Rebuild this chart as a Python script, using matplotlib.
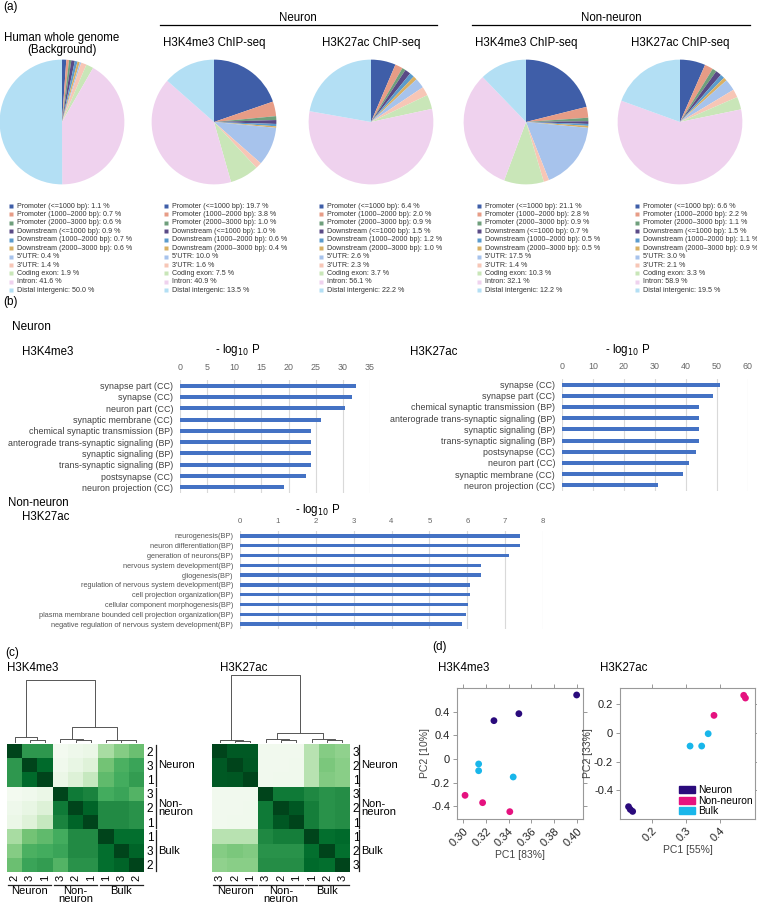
import numpy as np
import matplotlib
matplotlib.use('Agg')
import matplotlib.pyplot as plt
from matplotlib.patches import Patch

plt.rcParams['font.family'] = ['Liberation Sans', 'DejaVu Sans']

W, H = 757, 902

# ---- (a) peak annotation ----
categories = ['Promoter (<=1000 bp)', 'Promoter (1000–2000 bp)', 'Promoter (2000–3000 bp)',
              'Downstream (<=1000 bp)', 'Downstream (1000–2000 bp)', 'Downstream (2000–3000 bp)',
              "5'UTR", "3'UTR", 'Coding exon', 'Intron', 'Distal intergenic']
cat_colors = ['#3f5ea8', '#e79c86', '#6f9f7c', '#5a4a86', '#5b9bcc', '#d9b063',
              '#a7c3ec', '#f7c6b6', '#c9e6b8', '#efd2ee', '#b3dff4']
genome_bg = [1.1, 0.7, 0.6, 0.9, 0.7, 0.6, 0.4, 1.4, 1.9, 41.6, 50.0]
neuron_k4 = [19.7, 3.8, 1.0, 1.0, 0.6, 0.4, 10.0, 1.6, 7.5, 40.9, 13.5]
neuron_k27 = [6.4, 2.0, 0.9, 1.5, 1.2, 1.0, 2.6, 2.3, 3.7, 56.1, 22.2]
nonneuron_k4 = [21.1, 2.8, 0.9, 0.7, 0.5, 0.5, 17.5, 1.4, 10.3, 32.1, 12.2]
nonneuron_k27 = [6.6, 2.2, 1.1, 1.5, 1.1, 0.9, 3.0, 2.1, 3.3, 58.9, 19.5]
pie_titles = ['Human whole genome\n(Background)', 'H3K4me3 ChIP-seq', 'H3K27ac ChIP-seq',
              'H3K4me3 ChIP-seq', 'H3K27ac ChIP-seq']

# ---- (b) GO enrichment ----
go_n_k4_terms = ['synapse part (CC)', 'synapse (CC)', 'neuron part (CC)', 'synaptic membrane (CC)',
                 'chemical synaptic transmission (BP)', 'anterograde trans-synaptic signaling (BP)',
                 'synaptic signaling (BP)', 'trans-synaptic signaling (BP)', 'postsynapse (CC)',
                 'neuron projection (CC)']
go_n_k4_vals = [32.5, 31.7, 30.4, 25.9, 24.2, 24.2, 24.2, 24.2, 23.3, 19.1]
go_n_k27_terms = ['synapse (CC)', 'synapse part (CC)', 'chemical synaptic transmission (BP)',
                  'anterograde trans-synaptic signaling (BP)', 'synaptic signaling (BP)',
                  'trans-synaptic signaling (BP)', 'postsynapse (CC)', 'neuron part (CC)',
                  'synaptic membrane (CC)', 'neuron projection (CC)']
go_n_k27_vals = [51.1, 48.6, 44.3, 44.3, 44.3, 44.3, 43.1, 41.1, 38.9, 31.0]
go_nn_k27_terms = ['neurogenesis(BP)', 'neuron differentiation(BP)', 'generation of neurons(BP)',
                   'nervous system development(BP)', 'gliogenesis(BP)',
                   'regulation of nervous system development(BP)', 'cell projection organization(BP)',
                   'cellular component morphogenesis(BP)',
                   'plasma membrane bounded cell projection organization(BP)',
                   'negative regulation of nervous system development(BP)']
go_nn_k27_vals = [7.38, 7.38, 7.10, 6.37, 6.35, 6.08, 6.07, 6.02, 5.96, 5.85]

# ---- (c) correlation heatmaps ----
hm_k4_labels = ['2', '3', '1', '3', '2', '1', '1', '3', '2']
hm_k4 = [[1.00, 0.70, 0.70, 0.03, 0.06, 0.08, 0.35, 0.45, 0.52],
         [0.70, 1.00, 0.88, 0.05, 0.10, 0.15, 0.50, 0.60, 0.65],
         [0.70, 0.88, 1.00, 0.08, 0.16, 0.25, 0.55, 0.62, 0.68],
         [0.03, 0.05, 0.08, 1.00, 0.82, 0.78, 0.62, 0.65, 0.58],
         [0.06, 0.10, 0.16, 0.82, 1.00, 0.90, 0.75, 0.75, 0.72],
         [0.08, 0.15, 0.25, 0.78, 0.90, 1.00, 0.75, 0.75, 0.72],
         [0.35, 0.50, 0.55, 0.62, 0.75, 0.75, 1.00, 0.86, 0.86],
         [0.45, 0.60, 0.62, 0.65, 0.75, 0.75, 0.86, 1.00, 0.90],
         [0.52, 0.65, 0.68, 0.58, 0.72, 0.72, 0.86, 0.90, 1.00]]
hm_k4_links = [(1, 2, 7), (0, 9, 15), (4, 5, 5), (3, 11, 10), (7, 8, 5), (6, 13, 7),
               (12, 14, 45), (10, 15, 185)]
hm_k27_labels = ['3', '2', '1', '3', '2', '1', '1', '2', '3']
hm_k27 = [[1.00, 0.93, 0.93, 0.04, 0.04, 0.04, 0.30, 0.45, 0.42],
          [0.93, 1.00, 0.94, 0.04, 0.04, 0.05, 0.30, 0.48, 0.44],
          [0.93, 0.94, 1.00, 0.04, 0.05, 0.05, 0.30, 0.46, 0.44],
          [0.04, 0.04, 0.04, 1.00, 0.82, 0.82, 0.76, 0.72, 0.74],
          [0.04, 0.04, 0.05, 0.82, 1.00, 0.94, 0.80, 0.72, 0.74],
          [0.04, 0.05, 0.05, 0.82, 0.94, 1.00, 0.80, 0.72, 0.74],
          [0.30, 0.30, 0.30, 0.76, 0.80, 0.80, 1.00, 0.86, 0.88],
          [0.45, 0.48, 0.46, 0.72, 0.72, 0.72, 0.86, 1.00, 0.86],
          [0.42, 0.44, 0.44, 0.74, 0.74, 0.74, 0.88, 0.86, 1.00]]
hm_k27_links = [(1, 2, 3), (0, 9, 5), (4, 5, 5), (3, 11, 8), (7, 8, 5), (6, 13, 8),
                (12, 14, 28), (10, 15, 203)]
hm_groups = ['Neuron', 'Non-\nneuron', 'Bulk']

# ---- (d) PCA ----
pca_groups = ['Neuron', 'Non-neuron', 'Bulk']
pca_colors = ['#2a0a7c', '#e5127f', '#19b6ea']
k4_pc1 = [[0.327, 0.349, 0.400], [0.3015, 0.317, 0.341], [0.3135, 0.3135, 0.344]]
k4_pc2 = [[0.324, 0.383, 0.541], [-0.307, -0.369, -0.445], [-0.042, -0.099, -0.152]]
k27_pc1 = [[0.132, 0.137, 0.144], [0.469, 0.474, 0.382], [0.312, 0.346, 0.365]]
k27_pc2 = [[-0.514, -0.533, -0.547], [0.263, 0.244, 0.123], [-0.091, -0.091, -0.005]]

fig = plt.figure(figsize=(W / 100, H / 100), dpi=100)


def px_axes(x0, y0, x1, y1):
    return fig.add_axes([x0 / W, 1 - y1 / H, (x1 - x0) / W, (y1 - y0) / H])


# pies
pie_data = [genome_bg, neuron_k4, neuron_k27, nonneuron_k4, nonneuron_k27]
pie_cx = [62, 214, 371, 526, 680]
for vals, cx in zip(pie_data, pie_cx):
    ax = px_axes(cx - 63, 122 - 63, cx + 63, 122 + 63)
    ax.pie(vals, colors=cat_colors, startangle=90, counterclock=False,
           wedgeprops=dict(linewidth=0))
    ax.set_xlim(-1.01, 1.01)
    ax.set_ylim(-1.01, 1.01)


def bar_panel(rect, terms, vals, xmax, step, lab_fs, lab_col, tick_fs, xpad):
    ax = px_axes(*rect)
    y = np.arange(len(terms))
    ax.barh(y, vals, height=0.36, color='#4472c4')
    ax.set_ylim(len(terms) - 0.5, -0.5)
    ax.set_xlim(0, xmax)
    ax.set_xticks(np.arange(0, xmax + step / 2, step))
    ax.xaxis.tick_top()
    ax.set_yticks(y)
    ax.set_yticklabels(terms, fontsize=lab_fs, color=lab_col)
    ax.tick_params(length=0)
    ax.tick_params(axis='y', pad=5)
    ax.tick_params(axis='x', labelsize=tick_fs, labelcolor='#666666', pad=xpad)
    ax.grid(axis='x', color='#d9d9d9', lw=0.8)
    ax.set_axisbelow(True)
    for s in ax.spines.values():
        s.set_visible(False)
    return ax


bar_panel((180, 380, 370, 493), go_n_k4_terms, go_n_k4_vals, 35, 5, 6.4, '#404040', 6.4, 6)
bar_panel((562, 379, 748, 491), go_n_k27_terms, go_n_k27_vals, 60, 10, 6.4, '#404040', 6.4, 6)
bar_panel((240, 531, 543, 629), go_nn_k27_terms, go_nn_k27_vals, 8, 1, 5.3, '#555555', 5.6, 4)


def heatmap_panel(hx0, hx1, mat, labels, links, dtop, line_off):
    ax = px_axes(hx0, 744, hx1, 872)
    ax.imshow(np.array(mat), cmap='Greens', vmin=0, vmax=1, aspect='auto',
              interpolation='nearest')
    ax.set_xticks(range(9))
    ax.set_xticklabels(labels, rotation=90, fontsize=8)
    ax.set_yticks(range(9))
    ax.set_yticklabels(labels, fontsize=8.5)
    ax.yaxis.tick_right()
    ax.tick_params(length=0, pad=2)
    for s in ax.spines.values():
        s.set_visible(False)
    for g, name in enumerate(hm_groups):
        a, b = 3 * g - 0.42, 3 * g + 2.42
        ax.plot([8.5 + line_off] * 2, [a, b], color='#222', lw=0.9, clip_on=False)
        ax.text(8.5 + line_off + 0.15, 3 * g + 1, name, fontsize=8, va='center',
                ha='left', linespacing=0.8)
        ax.plot([a, b], [9.42] * 2, color='#222', lw=0.9, clip_on=False)
        ax.text(3 * g + 1, 9.5, name, fontsize=8, va='top', ha='center', linespacing=0.7)
    ax.set_xlim(-0.5, 8.5)
    ax.set_ylim(8.5, -0.5)
    # dendrogram
    dax = px_axes(hx0, dtop, hx1, 742)
    xs = {i: float(i) for i in range(9)}
    hs = {i: 0.0 for i in range(9)}
    for k, (a, b, h) in enumerate(links):
        dax.plot([xs[a], xs[a], xs[b], xs[b]], [hs[a], h, h, hs[b]], color='#555555',
                 lw=0.7, clip_on=False)
        xs[9 + k] = (xs[a] + xs[b]) / 2
        hs[9 + k] = h
    dax.set_xlim(-0.5, 8.5)
    dax.set_ylim(0, max(l[2] for l in links))
    dax.axis('off')


heatmap_panel(7, 144, hm_k4, hm_k4_labels, hm_k4_links, 680, 0.79)
heatmap_panel(212, 350, hm_k27, hm_k27_labels, hm_k27_links, 675, 0.6)


def pca_panel(rect, xs, ys, xlim, ylim, xt, xtl, yt, ytl, xlab, ylab, legend):
    ax = px_axes(*rect)
    for gx, gy, col, name in zip(xs, ys, pca_colors, pca_groups):
        ax.scatter(gx, gy, s=24, color=col, edgecolors='none', label=name, zorder=3)
    ax.set_xlim(*xlim)
    ax.set_ylim(*ylim)
    ax.set_xticks(xt)
    ax.set_xticklabels(xtl, rotation=45, ha='right', rotation_mode='anchor')
    ax.set_yticks(yt)
    ax.set_yticklabels(ytl)
    ax.tick_params(labelsize=8, length=3, width=0.6, color='#888888', top=True, right=True,
                   labelcolor='#222222', pad=2)
    for s in ax.spines.values():
        s.set_color('#999999')
        s.set_linewidth(0.8)
    ax.set_xlabel(xlab, fontsize=7.5, color='#444444', labelpad=1)
    ax.set_ylabel(ylab, fontsize=7.5, color='#444444', labelpad=1)
    if legend:
        handles = [Patch(color=c, label=n) for c, n in zip(pca_colors, pca_groups)]
        ax.legend(handles=handles, loc='lower right', frameon=False, fontsize=7.5,
                  handlelength=1.5, handleheight=0.6, handletextpad=0.3,
                  labelspacing=0.05, borderaxespad=0.15, borderpad=0.1)


pca_panel((457, 688, 583, 819), k4_pc1, k4_pc2, (0.2944, 0.4056), (-0.507, 0.600),
          [0.30, 0.32, 0.34, 0.36, 0.38, 0.40], ['0.30', '0.32', '0.34', '0.36', '0.38', '0.40'],
          [-0.4, -0.2, 0, 0.2, 0.4], ['-0.4', '-0.2', '0', '0.4', '0.4'],
          'PC1 [83%]', 'PC2 [10%]', False)
pca_panel((620, 688, 755, 819), k27_pc1, k27_pc2, (0.107, 0.502), (-0.600, 0.314),
          [0.2, 0.3, 0.4], ['0.2', '0.3', '0.4'],
          [-0.4, -0.2, 0, 0.2], ['-0.4', '-0.2', '0', '0.2'],
          'PC1 [55%]', 'PC2 [33%]', True)

# free text layer in pixel coordinates
txt = fig.add_axes([0, 0, 1, 1])
txt.set_xlim(0, W)
txt.set_ylim(H, 0)
txt.axis('off')
txt.patch.set_alpha(0)

txt.text(3, 7, '(a)', fontsize=8.5, va='center')
for cx, t in zip(pie_cx, pie_titles):
    yy = 44 if '\n' in t else 43
    txt.text(cx, yy, t, fontsize=8.3, ha='center', va='center', linespacing=1.0)
txt.text(298, 18, 'Neuron', fontsize=8.3, ha='center', va='center')
txt.plot([160, 437], [25, 25], color='k', lw=0.9)
txt.text(611, 18, 'Non-neuron', fontsize=8.3, ha='center', va='center')
txt.plot([472, 750], [25, 25], color='k', lw=0.9)

leg_x = [11, 166, 321, 479, 637]
for vals, sx in zip(pie_data, leg_x):
    for i, (c, v, col) in enumerate(zip(categories, vals, cat_colors)):
        yy = 206 + i * 8.43
        txt.plot(sx, yy, 's', ms=2.3, color=col, mec='none')
        txt.text(sx + 6, yy, f'{c}: {v:.1f} %', fontsize=5.1, va='center', color='#333333')

txt.text(3, 302, '(b)', fontsize=8.5, va='center')
txt.text(12, 327, 'Neuron', fontsize=8.5, va='center')
txt.text(22, 352, 'H3K4me3', fontsize=8.3, va='center')
txt.text(238, 350, '- log$_{10}$ P', fontsize=8.3, ha='center', va='center')
txt.text(410, 352, 'H3K27ac', fontsize=8.3, va='center')
txt.text(628, 350, '- log$_{10}$ P', fontsize=8.3, ha='center', va='center')
txt.text(8, 503, 'Non-neuron', fontsize=8.3, va='center')
txt.text(22, 517, 'H3K27ac', fontsize=8.3, va='center')
txt.text(318, 510, '- log$_{10}$ P', fontsize=8.3, ha='center', va='center')

txt.text(5, 653, '(c)', fontsize=8.5, va='center')
txt.text(7, 668, 'H3K4me3', fontsize=8.3, va='center')
txt.text(220, 668, 'H3K27ac', fontsize=8.3, va='center')
txt.text(432, 647, '(d)', fontsize=8.5, va='center')
txt.text(438, 668, 'H3K4me3', fontsize=8.3, va='center')
txt.text(600, 668, 'H3K27ac', fontsize=8.3, va='center')

fig.savefig('out.png', dpi=100)
